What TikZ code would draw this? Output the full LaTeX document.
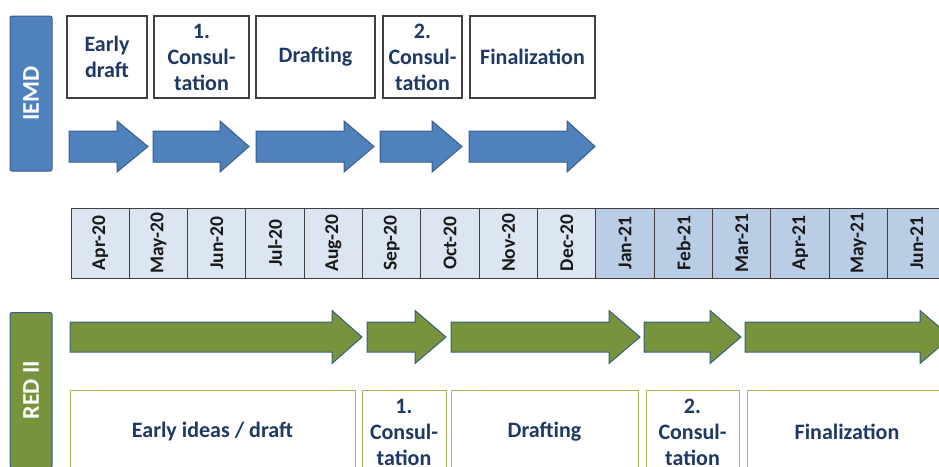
\documentclass[tikz,border=0pt]{standalone}
\usepackage{fontspec}
\setmainfont{Carlito}
\definecolor{iemdblue}{HTML}{4F81BD}
\definecolor{arrowline}{HTML}{385D8A}
\definecolor{redgreen}{HTML}{77933C}
\definecolor{boxgreen}{HTML}{9BBB59}
\definecolor{labelnavy}{HTML}{1F3864}
\definecolor{monthA}{HTML}{DCE6F2}
\definecolor{monthB}{HTML}{B9CDE5}
\newcommand{\blockarrow}[7]{%
	\draw[#1](#2,#5-#6)--(#3,#5-#6)--(#3,#5-#7)--(#4,#5)--(#3,#5+#7)--(#3,#5+#6)--(#2,#5+#6)--cycle;}
\tikzset{
	phasebar/.style={draw=arrowline,line width=1pt,rounded corners=2pt,rotate=90,
		minimum width=155pt,minimum height=42pt,text=white,font=\fontsize{24}{28}\selectfont\bfseries},
	phasebox/.style={fill=white,align=center,inner sep=0pt,text=labelnavy,
		font=\fontsize{22}{26}\selectfont\bfseries},
	topbox/.style={phasebox,draw=black!75,line width=1.2pt,minimum height=82pt},
	lowbox/.style={phasebox,draw=boxgreen,line width=1pt,minimum height=84pt},
	monthcell/.style={draw=black!75,line width=1pt,rotate=90,minimum width=70pt,
		minimum height=58.33pt,inner sep=0pt,text=black!90,font=\fontsize{19.5}{22}\selectfont\bfseries},
	bluearrow/.style={fill=iemdblue,draw=arrowline,line width=1pt},
	greenarrow/.style={fill=redgreen,draw=arrowline,line width=1pt}
}
\begin{document}
\begin{tikzpicture}[x=1pt,y=-1pt]
	\useasboundingbox(0,0)rectangle(939,466);
	\clip(0,0)rectangle(939,466);
	\node[phasebar,fill=iemdblue](iemd)at(31,93.5){IEMD};
	\node[phasebar,fill=redgreen](red)at(31,390){RED II};
	\node[topbox,minimum width=80pt](t1)at(107,57){Early\\draft};
	\node[topbox,minimum width=95pt](t2)at(201.5,57){1.\\Consul-\\tation};
	\node[topbox,minimum width=119pt](t3)at(315.5,57){Drafting};
	\node[topbox,minimum width=79pt](t4)at(422.5,57){2.\\Consul-\\tation};
	\node[topbox,minimum width=125pt](t5)at(532.5,57){Finalization};
	\blockarrow{bluearrow}{69}{117}{148}{146.5}{15.5}{25.5}
	\blockarrow{bluearrow}{153}{220}{249}{146.5}{15.5}{25.5}
	\blockarrow{bluearrow}{256}{344}{374}{146.5}{15.5}{25.5}
	\blockarrow{bluearrow}{380}{432}{462}{146.5}{15.5}{25.5}
	\blockarrow{bluearrow}{469}{567}{595}{146.5}{15.5}{25.5}
	\foreach \m [count=\i from 0] in {Apr-20,May-20,Jun-20,Jul-20,Aug-20,Sep-20,Oct-20,Nov-20,Dec-20,Jan-21,Feb-21,Mar-21,Apr-21,May-21,Jun-21}{
		\ifnum\i<9 \def\cellfill{monthA}\else\def\cellfill{monthB}\fi
		\node[monthcell,fill=\cellfill](m\i)at({100.17+58.33*\i},243){\m};
	}
	\blockarrow{greenarrow}{70}{332}{362}{337}{15}{26.5}
	\blockarrow{greenarrow}{367}{415}{446}{337}{15}{26.5}
	\blockarrow{greenarrow}{451}{609}{640}{337}{15}{26.5}
	\blockarrow{greenarrow}{644}{710}{741}{337}{15}{26.5}
	\blockarrow{greenarrow}{745}{920}{951}{337}{15}{26.5}
	\node[lowbox,minimum width=285pt](b1)at(212.5,432){Early ideas / draft};
	\node[lowbox,minimum width=84pt](b2)at(404,432){1.\\Consul-\\tation};
	\node[lowbox,minimum width=187pt](b3)at(544.5,432){Drafting};
	\node[lowbox,minimum width=93pt](b4)at(692.5,432){2.\\Consul-\\tation};
	\node[lowbox,minimum width=200pt](b5)at(847,432){Finalization};
\end{tikzpicture}
\end{document}
